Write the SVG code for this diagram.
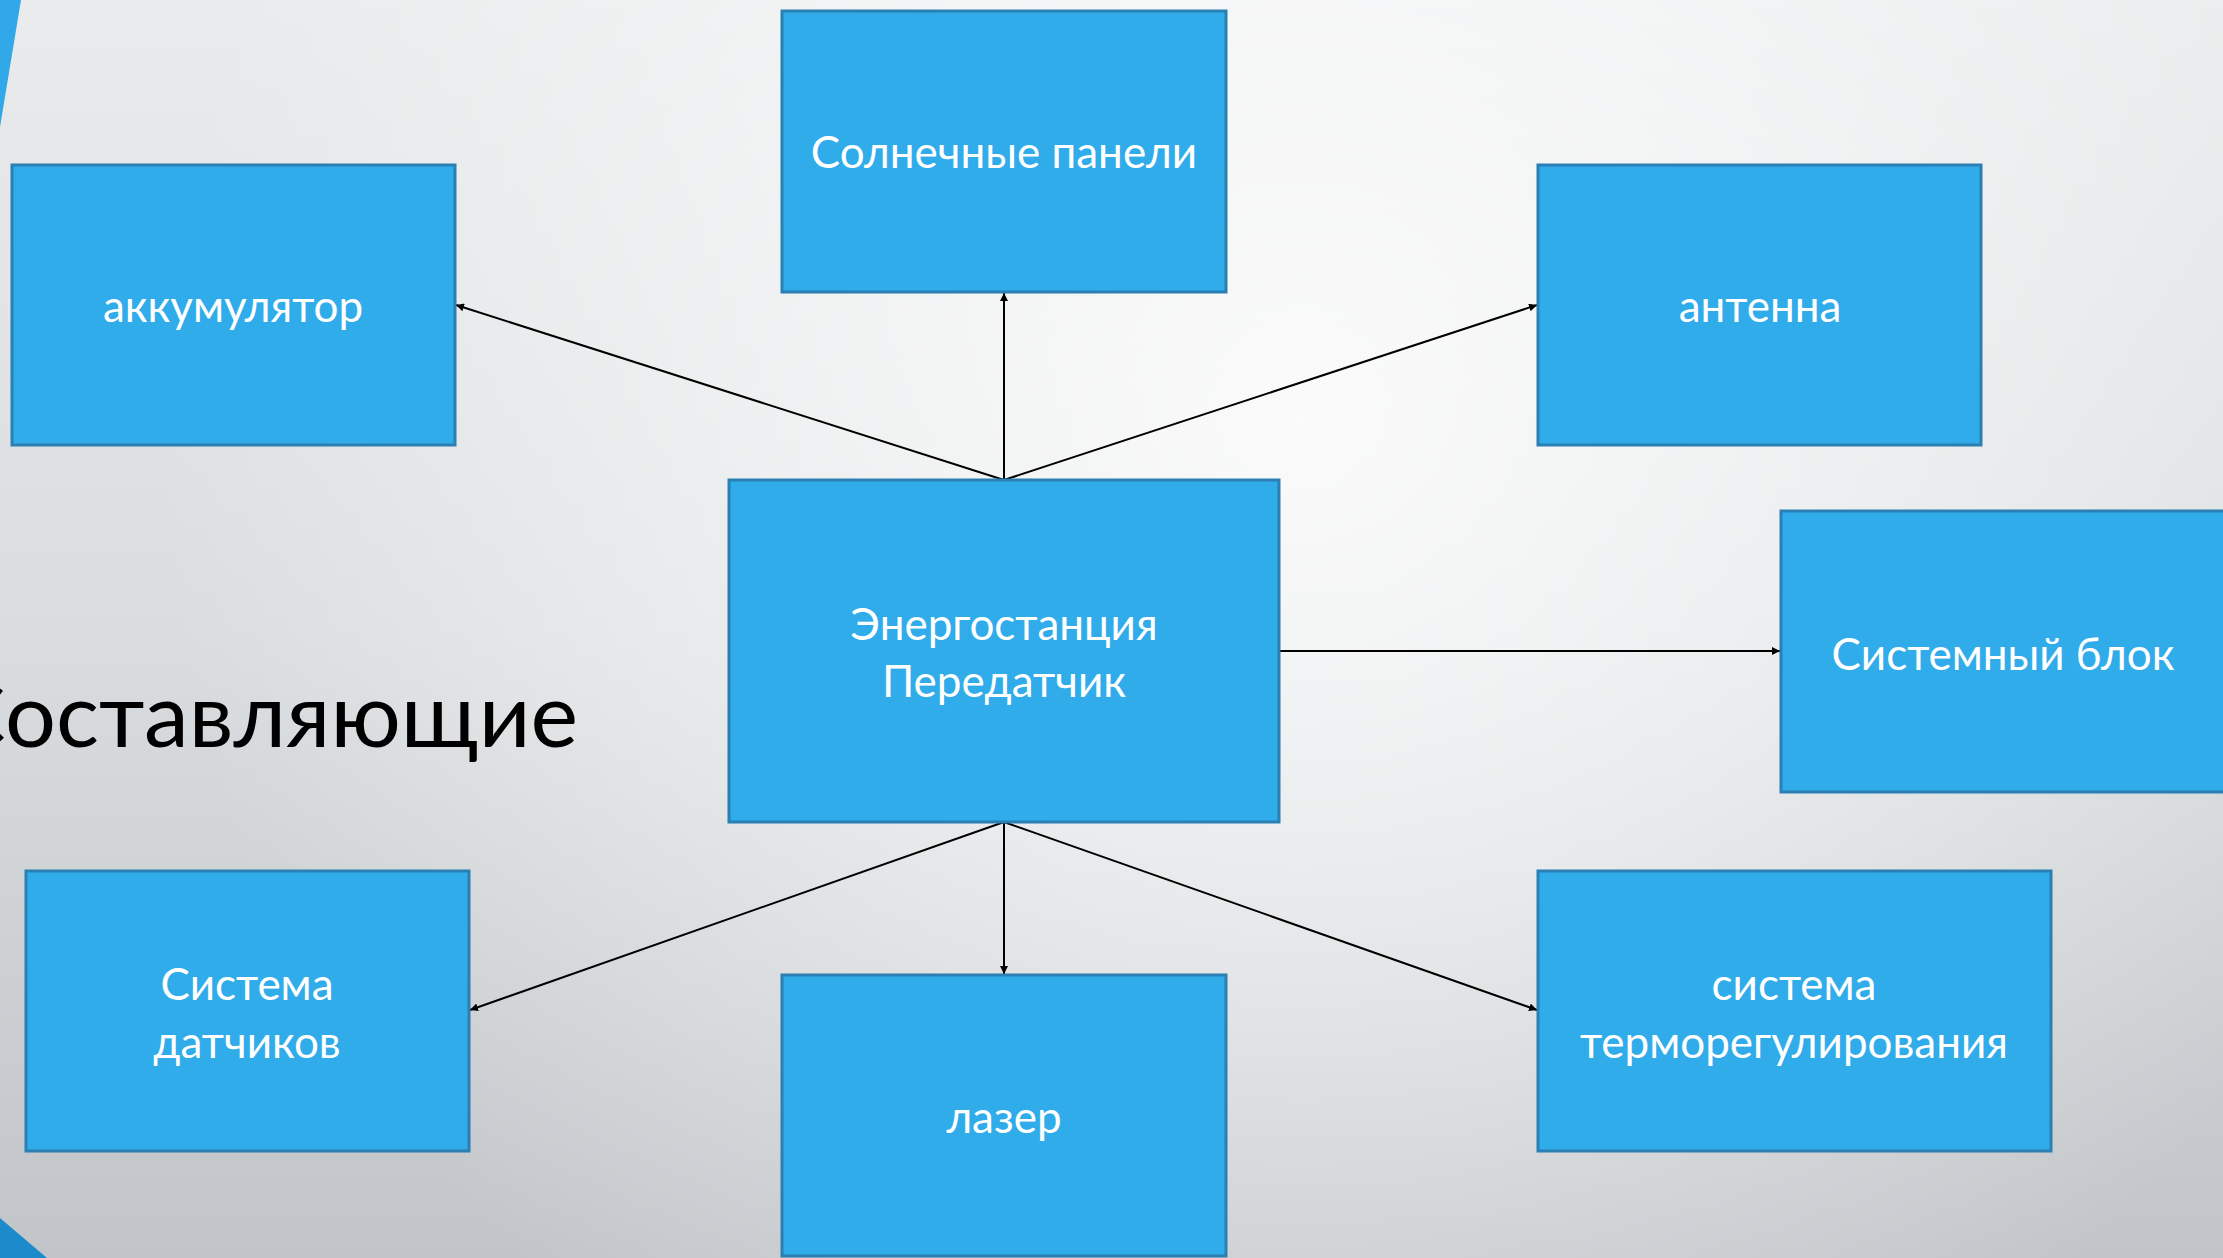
<svg xmlns="http://www.w3.org/2000/svg" width="2223" height="1258" viewBox="0 0 2223 1258">
<defs>
<linearGradient id="bgLin" x1="0" y1="0" x2="0" y2="1">
<stop offset="0" stop-color="#e9ebec"/>
<stop offset="0.5" stop-color="#dadddf"/>
<stop offset="1" stop-color="#c1c5c9"/>
</linearGradient>
<radialGradient id="bgRad" cx="1300" cy="420" r="1150" gradientUnits="userSpaceOnUse">
<stop offset="0" stop-color="#ffffff" stop-opacity="0.85"/>
<stop offset="0.45" stop-color="#ffffff" stop-opacity="0.5"/>
<stop offset="1" stop-color="#ffffff" stop-opacity="0"/>
</radialGradient>
<marker id="arr" viewBox="0 0 10 10" refX="10" refY="5" markerWidth="8" markerHeight="8" markerUnits="userSpaceOnUse" orient="auto">
<path d="M0,0 L10,5 L0,10 z" fill="#000"/>
</marker>
</defs>
<style>
.box{fill:#31acea;stroke:#2a7fb3;stroke-width:3}
.lbl{fill:#ffffff;font-family:Lato,"Open Sans","Liberation Sans",sans-serif;font-size:44px;text-anchor:middle}
.con{stroke:#000;stroke-width:2;fill:none;marker-end:url(#arr)}
.title{fill:#000;font-family:Lato,"Open Sans","Liberation Sans",sans-serif;font-size:90px;text-anchor:end}
</style>
<rect x="0" y="0" width="2223" height="1258" fill="url(#bgLin)"/>
<rect x="0" y="0" width="2223" height="1258" fill="url(#bgRad)"/>
<polygon points="0,0 21,0 0,127" fill="#31a9e8"/>
<polygon points="0,1218 47,1258 0,1258" fill="#1d8bcb"/>
<text class="title" x="578" y="747">Составляющие</text>

<g id="connectors">
<line class="con" x1="1004" y1="480" x2="456" y2="305"/>
<line class="con" x1="1004" y1="480" x2="1004" y2="293"/>
<line class="con" x1="1004" y1="480" x2="1537" y2="305"/>
<line class="con" x1="1280" y1="651" x2="1780" y2="651"/>
<line class="con" x1="1004" y1="822" x2="470" y2="1010"/>
<line class="con" x1="1004" y1="822" x2="1004" y2="974"/>
<line class="con" x1="1004" y1="822" x2="1537" y2="1010"/>
</g>

<g id="node-akkumulyator">
<rect class="box" x="12" y="165" width="443" height="280"/>
<text class="lbl" x="233" y="322">аккумулятор</text>
</g>
<g id="node-solnechnye">
<rect class="box" x="782" y="11" width="444" height="281"/>
<text class="lbl" x="1004" y="168">Солнечные панели</text>
</g>
<g id="node-antenna">
<rect class="box" x="1538" y="165" width="443" height="280"/>
<text class="lbl" x="1760" y="322">антенна</text>
</g>
<g id="node-center">
<rect class="box" x="729" y="480" width="550" height="342"/>
<text class="lbl" x="1004" y="640">Энергостанция</text>
<text class="lbl" x="1004" y="697">Передатчик</text>
</g>
<g id="node-sistemny-blok">
<rect class="box" x="1781" y="511" width="444" height="281"/>
<text class="lbl" x="2003" y="670">Системный блок</text>
</g>
<g id="node-datchiki">
<rect class="box" x="26" y="871" width="443" height="280"/>
<text class="lbl" x="247" y="1000">Система</text>
<text class="lbl" x="247" y="1058">датчиков</text>
</g>
<g id="node-lazer">
<rect class="box" x="782" y="975" width="444" height="281"/>
<text class="lbl" x="1004" y="1133">лазер</text>
</g>
<g id="node-termo">
<rect class="box" x="1538" y="871" width="513" height="280"/>
<text class="lbl" x="1794" y="1000">система</text>
<text class="lbl" x="1794" y="1058">терморегулирования</text>
</g>
</svg>
